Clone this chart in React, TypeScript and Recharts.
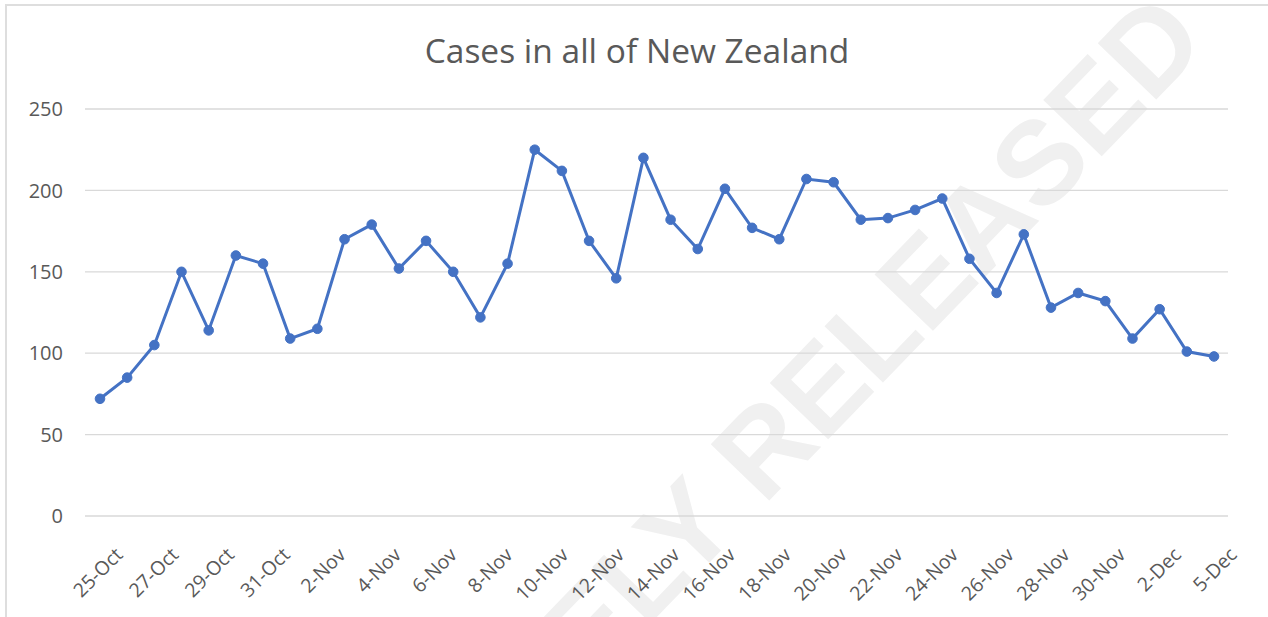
import { CartesianGrid, Line, LineChart, XAxis, YAxis } from "recharts"

// daily cases, 25-Oct through 5-Dec
const DATES = [
  "25-Oct", "26-Oct", "27-Oct", "28-Oct", "29-Oct", "30-Oct", "31-Oct",
  "1-Nov", "2-Nov", "3-Nov", "4-Nov", "5-Nov", "6-Nov", "7-Nov", "8-Nov",
  "9-Nov", "10-Nov", "11-Nov", "12-Nov", "13-Nov", "14-Nov", "15-Nov",
  "16-Nov", "17-Nov", "18-Nov", "19-Nov", "20-Nov", "21-Nov", "22-Nov",
  "23-Nov", "24-Nov", "25-Nov", "26-Nov", "27-Nov", "28-Nov", "29-Nov",
  "30-Nov", "1-Dec", "2-Dec", "3-Dec", "4-Dec", "5-Dec",
]

const CASES = [
  72, 85, 105, 150, 114, 160, 155, 109, 115, 170, 179, 152, 169, 150, 122,
  155, 225, 212, 169, 146, 220, 182, 164, 201, 177, 170, 207, 205, 182,
  183, 188, 195, 158, 137, 173, 128, 137, 132, 109, 127, 101, 98,
]

const TICK_LABELS = [
  "25-Oct", "27-Oct", "29-Oct", "31-Oct", "2-Nov", "4-Nov", "6-Nov", "8-Nov",
  "10-Nov", "12-Nov", "14-Nov", "16-Nov", "18-Nov", "20-Nov", "22-Nov",
  "24-Nov", "26-Nov", "28-Nov", "30-Nov", "2-Dec", "5-Dec",
]

const Y_TICKS = [0, 50, 100, 150, 200, 250]

const TITLE = "Cases in all of New Zealand"
const WATERMARK = "PROACTIVELY RELEASED"

const BLUE = "#4472C4"
const TEXT = "#595959"
const FONT = '"Open Sans", sans-serif'

const data = CASES.map((v, i) => ({ day: i, date: DATES[i], cases: v }))
const last = CASES.length - 1
const xTicks = TICK_LABELS.map((_, i) => (i * last) / (TICK_LABELS.length - 1))

function XTick({ x, y, index }: any) {
  const tx = x + 24
  const ty = y + 32
  return (
    <text
      x={tx}
      y={ty}
      textAnchor="end"
      transform={`rotate(-45 ${tx} ${ty})`}
      fill={TEXT}
      fontSize={19.5}
      fontFamily={FONT}
    >
      {TICK_LABELS[index]}
    </text>
  )
}

function YTick({ x, y, payload }: any) {
  return (
    <text x={x - 14} y={y} dy="0.36em" textAnchor="end" fill={TEXT} fontSize={20} fontFamily={FONT}>
      {payload.value}
    </text>
  )
}

export default function App() {
  return (
    <div
      style={{
        position: "absolute",
        left: 0,
        top: 0,
        width: 1268,
        height: 617,
        overflow: "hidden",
        background: "#fff",
      }}
    >
      <div
        style={{
          position: "absolute",
          left: 5,
          top: 4,
          width: 1400,
          height: 800,
          borderTop: "2px solid #dedede",
          borderLeft: "2px solid #dedede",
        }}
      />
      <svg width={1268} height={617} style={{ position: "absolute", left: 0, top: 0 }}>
        <text
          x={1210}
          y={44}
          textAnchor="end"
          transform="rotate(-46 1210 44)"
          fill="#f0f0f0"
          fontSize={118}
          fontWeight={700}
          fontFamily='"Liberation Sans", Arial, sans-serif'
        >
          {WATERMARK}
        </text>
      </svg>
      <div style={{ position: "absolute", left: 0, top: 0 }}>
        <LineChart width={1268} height={617} data={data} margin={{ top: 109, right: 40, left: 0, bottom: 0 }}>
          <CartesianGrid vertical={false} stroke="#d9d9d9" strokeWidth={1.3} />
          <XAxis
            type="number"
            dataKey="day"
            domain={[0, last]}
            ticks={xTicks}
            interval={0}
            padding={{ left: 15, right: 14 }}
            axisLine={false}
            tickLine={false}
            height={101}
            tick={<XTick />}
          />
          <YAxis
            domain={[0, 250]}
            ticks={Y_TICKS}
            interval={0}
            axisLine={false}
            tickLine={false}
            width={85}
            tick={<YTick />}
          />
          <Line
            type="linear"
            dataKey="cases"
            stroke={BLUE}
            strokeWidth={3}
            dot={{ r: 4.8, fill: BLUE, stroke: BLUE, strokeWidth: 1 }}
            activeDot={false}
            isAnimationActive={false}
          />
        </LineChart>
      </div>
      <div
        style={{
          position: "absolute",
          left: 0,
          width: 1274,
          top: 28,
          textAlign: "center",
          fontFamily: FONT,
          fontSize: 33.5,
          lineHeight: "44px",
          color: TEXT,
        }}
      >
        {TITLE}
      </div>
    </div>
  )
}
